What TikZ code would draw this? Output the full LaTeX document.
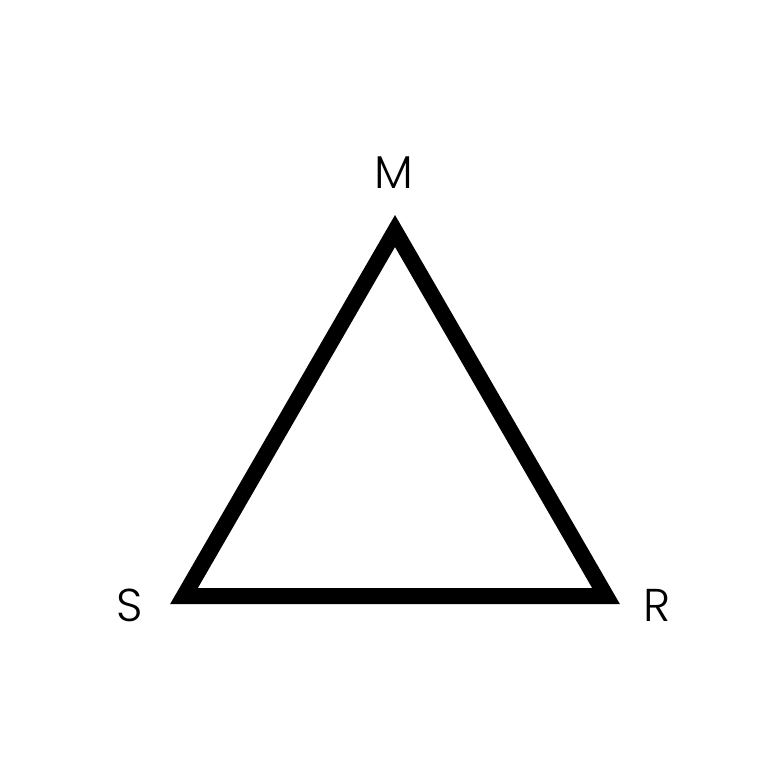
\documentclass[tikz,border=0pt]{standalone}
\usepackage{fontspec}
\IfFontExistsTF{Poppins Light}{\newfontfamily\labfont{Poppins Light}}{%
  \IfFontExistsTF{FiraSans-Light.otf}{\newfontfamily\labfont{FiraSans-Light.otf}}{\newfontfamily\labfont{Poppins}}}
\begin{document}
\begin{tikzpicture}[x=1pt,y=-1pt,
  edge/.style={line width=16pt, line join=miter, draw=black},
  lab/.style={font=\labfont\fontsize{46}{46}\selectfont, inner sep=0pt, anchor=base}]
\useasboundingbox[fill=white] (0,0) rectangle (766,766);
\coordinate (m) at (395,231);
\coordinate (s) at (184,596);
\coordinate (r) at (606,596);
\draw[edge] (m) -- (r) -- (s) -- cycle;
\node[lab] (M) at (394,188) {M};
\node[lab] (S) at (130,621) {S};
\node[lab] (R) at (657,621) {R};
\end{tikzpicture}
\end{document}
